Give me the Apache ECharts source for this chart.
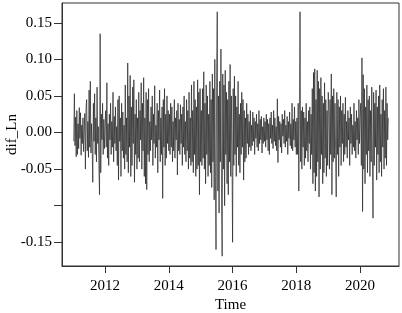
<!DOCTYPE html>
<html><head><meta charset="utf-8">
<script src="https://cdn.jsdelivr.net/npm/echarts@6/dist/echarts.min.js"></script>
<style>html,body{margin:0;padding:0;background:#fff}#c{width:402px;height:313px}</style>
</head><body><div id="c"></div>
<script>
// weekly time series: start year and frequency
var seriesStart = 2011.02;
var seriesFreq = 52;
var xTicks = [2012, 2014, 2016, 2018, 2020];
var yTicks = [-0.15, -0.10, -0.05, 0.00, 0.05, 0.10, 0.15];
var yLabelTicks = [-0.15, -0.05, 0.00, 0.05, 0.10, 0.15];

var v2011 = [-0.012,0.053,-0.018,0.021,-0.033,0.030,-0.030,0.012,-0.022,0.034,
 -0.008,0.027,-0.031,0.010,-0.015,0.020,-0.026,0.005,0.026,-0.050,
 0.033,0.045,-0.025,0.015,-0.034,0.058,-0.020,0.070,-0.028,0.012,
 -0.018,-0.068,0.040,-0.012,0.053,-0.030,0.020,-0.040,0.062,-0.015,
 0.008,-0.045,-0.085,0.135,-0.055,0.025,-0.010,0.040,-0.030,0.018,
 -0.022,0.010];
var v2012 = [0.030,-0.020,0.068,-0.035,0.012,-0.045,0.025,-0.010,0.040,-0.030,
 0.015,-0.020,0.055,-0.040,0.022,-0.015,0.035,-0.025,0.008,-0.045,
 0.045,-0.065,0.050,-0.012,0.020,-0.060,0.040,-0.025,0.028,-0.035,
 0.010,-0.050,0.065,-0.030,0.020,-0.040,0.095,-0.055,0.050,-0.020,
 0.078,-0.060,0.035,-0.045,0.062,-0.015,0.072,-0.068,0.025,-0.030,
 0.045,-0.050];
var v2013 = [0.020,-0.035,0.055,-0.040,0.030,-0.010,0.068,-0.050,0.040,-0.025,
 0.075,-0.060,0.020,-0.070,0.055,-0.078,0.045,-0.030,0.060,-0.040,
 0.015,-0.025,0.035,-0.010,0.050,-0.045,0.025,-0.015,0.064,-0.035,
 0.010,-0.020,0.040,-0.055,0.030,-0.010,0.058,-0.040,0.020,-0.030,
 0.035,-0.090,0.045,-0.020,0.060,-0.045,0.025,-0.035,0.050,-0.015,
 0.030,-0.025];
var v2014 = [0.025,-0.030,0.040,-0.020,0.035,-0.040,0.015,-0.025,0.045,-0.035,
 0.020,-0.010,0.030,-0.058,0.040,-0.025,0.018,-0.030,0.038,-0.015,
 0.025,-0.045,0.035,-0.020,0.050,-0.030,0.015,-0.040,0.045,-0.025,
 0.030,-0.050,0.055,-0.035,0.020,-0.045,0.065,-0.040,0.030,-0.055,
 0.070,-0.030,0.045,-0.060,0.035,-0.050,0.072,-0.045,0.055,-0.085,
 0.060,-0.040];
var v2015 = [0.030,-0.045,0.060,-0.035,0.083,-0.050,0.040,-0.070,0.065,-0.030,
 0.050,-0.060,0.025,-0.045,0.070,-0.055,0.045,-0.075,0.080,-0.040,
 0.060,-0.092,0.100,-0.060,-0.160,0.075,0.165,-0.080,0.050,-0.110,
 0.070,-0.040,0.114,-0.090,-0.169,0.080,-0.050,0.065,-0.100,0.085,
 -0.030,0.055,-0.070,0.045,-0.085,0.070,-0.040,0.093,-0.060,0.050,
 -0.025,-0.150];
var v2016 = [0.060,-0.045,0.077,-0.030,0.050,-0.060,0.035,-0.020,0.070,-0.045,
 0.025,-0.055,0.040,-0.030,0.055,-0.020,0.045,-0.065,0.030,-0.040,
 0.020,-0.035,0.040,-0.015,0.025,-0.030,0.015,-0.020,0.030,-0.025,
 0.010,-0.018,0.028,-0.012,0.020,-0.030,0.015,-0.008,0.025,-0.020,
 0.012,-0.025,0.030,-0.015,0.018,-0.010,0.022,-0.028,0.008,-0.015,
 0.020,-0.012];
var v2017 = [0.015,-0.020,0.025,-0.010,0.018,-0.025,0.012,-0.030,0.020,-0.008,
 0.028,-0.015,0.010,-0.022,0.030,-0.012,0.020,-0.018,0.008,-0.025,
 0.046,-0.041,0.022,-0.010,0.015,-0.020,0.012,-0.028,0.025,-0.005,
 0.018,-0.015,0.030,-0.020,0.010,-0.012,0.022,-0.030,0.015,-0.008,
 0.028,-0.018,0.012,-0.022,0.040,-0.025,0.018,-0.010,0.035,-0.020,
 0.015,-0.030];
var v2018 = [0.020,-0.030,0.040,-0.080,0.030,0.165,-0.040,0.030,-0.050,0.035,
 -0.020,0.028,-0.045,0.020,-0.035,0.040,-0.025,0.015,-0.040,0.030,
 -0.015,0.035,-0.050,0.025,-0.030,0.060,-0.070,0.082,-0.055,0.087,
 -0.080,0.045,-0.060,0.085,-0.040,0.070,-0.088,0.060,-0.050,0.075,
 -0.030,0.050,-0.070,0.040,-0.055,0.068,-0.035,0.045,-0.060,0.030,
 -0.045,0.055];
var v2019 = [0.030,-0.050,0.045,-0.030,0.080,-0.085,0.050,-0.040,0.060,-0.035,
 0.040,-0.025,-0.088,0.055,-0.030,0.045,-0.060,0.035,-0.020,0.050,
 -0.045,0.030,-0.015,0.040,-0.040,0.025,-0.030,0.048,-0.020,0.015,
 -0.035,0.030,-0.010,0.020,-0.045,0.035,-0.015,0.025,-0.030,0.010,
 -0.020,0.040,-0.025,0.015,-0.035,0.030,-0.010,0.020,-0.030,0.045,
 -0.015,0.020];
var v2020 = [0.040,-0.045,0.102,-0.108,0.079,-0.050,0.060,-0.070,0.035,-0.030,
 0.065,-0.055,0.045,-0.025,0.050,-0.060,0.030,-0.040,0.062,-0.030,
 -0.117,0.055,-0.045,0.040,-0.020,0.058,-0.065,0.035,-0.030,0.050,
 -0.055,0.065,-0.040,0.025,-0.060,0.045,-0.020,0.060,-0.050,0.030,
 -0.035,0.062,-0.045,0.040,-0.010,0.020];

var values = [].concat(v2011,v2012,v2013,v2014,v2015,v2016,v2017,v2018,v2019,v2020);
var data = values.map(function(v,i){ return [seriesStart + i/seriesFreq, v]; });

var font = 'Liberation Serif';
var chart = echarts.init(document.getElementById('c'), null, {renderer:'canvas'});
chart.setOption({
  animation:false,
  grid:{left:62, right:3, top:3, bottom:47, outerBoundsMode:'none', containLabel:false,
        show:true, borderColor:'#333', borderWidth:1, backgroundColor:'transparent'},
  xAxis:{
    type:'value', min:2010.651, max:2021.22,
    name:'Time', nameLocation:'middle', nameGap:32, nameMoveOverlap:false,
    nameTextStyle:{fontFamily:font, fontSize:15, color:'#000'},
    axisLine:{show:true, onZero:false, lineStyle:{color:'#333'}},
    axisTick:{show:true, length:7, lineStyle:{color:'#333'}, customValues:xTicks},
    axisLabel:{fontFamily:font, fontSize:15, color:'#000', margin:13, customValues:xTicks, formatter:function(v){return String(v);}},
    splitLine:{show:false}
  },
  yAxis:{
    type:'value', min:-0.1824, max:0.177,
    name:'dif_Ln', nameLocation:'middle', nameGap:42, nameRotate:90, nameMoveOverlap:false,
    nameTextStyle:{fontFamily:font, fontSize:15, color:'#000'},
    axisLine:{show:true, onZero:false, lineStyle:{color:'#333'}},
    axisTick:{show:true, length:8, lineStyle:{color:'#333'}, customValues:yTicks},
    axisLabel:{fontFamily:font, fontSize:15, color:'#000', margin:10, customValues:yLabelTicks, formatter:function(v){return v.toFixed(2);}},
    splitLine:{show:false}
  },
  series:[{
    type:'line', data:data, showSymbol:false, symbol:'none',
    lineStyle:{color:'#222', width:0.7},
    emphasis:{disabled:true}
  }]
});
</script></body></html>
